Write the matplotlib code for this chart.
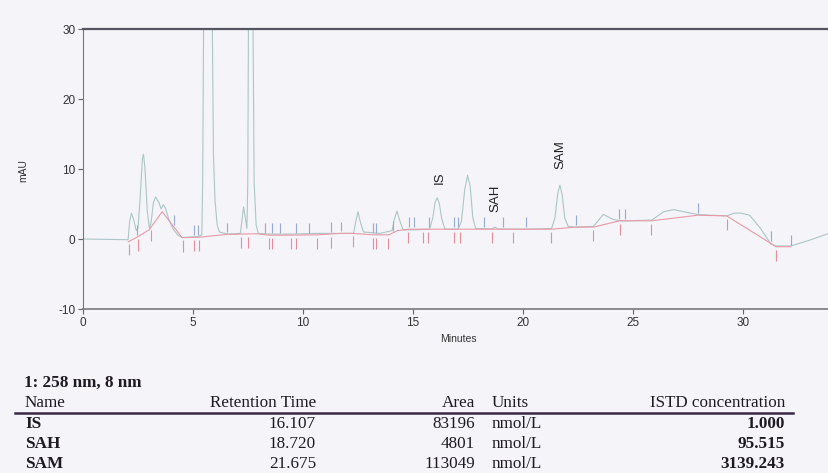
import numpy as np
import matplotlib
matplotlib.use("Agg")
import matplotlib.pyplot as plt

plt.rcParams["axes.unicode_minus"] = False

# Chromatogram trace (minutes, mAU)
trace_t = [0.0, 2.05, 2.12, 2.2, 2.3, 2.42, 2.5, 2.6, 2.7, 2.75, 2.82, 2.92, 3.02, 3.1, 3.2,
           3.3, 3.45, 3.55, 3.65, 3.75, 3.9, 4.1, 4.3, 4.5, 5.0, 5.25, 5.4, 5.44, 5.48, 5.65,
           5.88, 5.93, 6.0, 6.1, 6.2, 6.6, 7.15, 7.22, 7.3, 7.38, 7.45, 7.49, 7.52, 7.62, 7.73,
           7.78, 7.87, 7.97, 8.5, 9.5, 10.5, 11.5, 12.3, 12.4, 12.5, 12.6, 12.75, 13.5, 14.05,
           14.15, 14.27, 14.4, 14.55, 15.0, 15.75, 15.9, 16.0, 16.1, 16.2, 16.3, 16.45, 17.05,
           17.2, 17.35, 17.48, 17.6, 17.72, 17.85, 18.6, 18.72, 18.85, 20.0, 21.3, 21.45, 21.58,
           21.68, 21.78, 21.9, 22.05, 22.4, 23.2, 23.65, 24.1, 24.4, 24.65, 25.85, 26.4, 26.85,
           27.3, 27.94, 28.5, 29.26, 29.6, 29.9, 30.3, 30.8, 31.26, 31.5, 32.17, 33.0, 33.9]
trace_y = [0.0, -0.1, 2.5, 3.7, 2.8, 1.2, 1.5, 6.0, 11.5, 12.1, 10.0, 4.0, 1.5, 2.5, 5.2,
           6.0, 5.2, 4.3, 4.9, 4.4, 2.8, 1.4, 0.6, 0.2, 0.3, 0.35, 0.6, 8.0, 30.0, 150.0,
           30.0, 12.0, 5.5, 2.0, 1.0, 0.7, 0.8, 2.5, 4.6, 3.0, 1.5, 8.0, 30.0, 120.0, 30.0,
           8.0, 2.0, 0.8, 0.7, 0.7, 0.8, 0.8, 0.8, 2.5, 3.9, 2.5, 1.0, 0.8, 1.2,
           2.8, 4.0, 2.6, 1.3, 1.3, 1.4, 3.0, 5.2, 5.9, 5.0, 3.0, 1.4, 1.4,
           2.5, 7.0, 9.1, 7.5, 3.0, 1.5, 1.45, 1.7, 1.45, 1.4, 1.5, 3.0, 6.5,
           7.7, 6.3, 3.0, 1.8, 1.7, 1.8, 3.5, 2.8, 2.6, 2.6, 2.7, 3.9, 4.2,
           3.9, 3.5, 3.4, 3.3, 3.7, 3.7, 3.4, 1.5, -0.7, -1.0, -1.0, -0.2, 0.8]

# Integration baseline
base_t = [2.06, 2.45, 3.0, 3.6, 4.5, 5.27, 6.5, 7.17, 7.9, 8.45, 9.44, 10.64, 11.7, 12.26,
          13.2, 13.9, 14.3, 14.8, 16.9, 19.5, 21.3, 22.4, 23.2, 24.4, 25.85, 27.94, 29.26,
          31.3, 31.5, 32.17]
base_y = [-0.4, 0.25, 1.3, 3.9, 0.2, 0.25, 0.65, 0.7, 0.75, 0.55, 0.55, 0.6, 0.8, 0.8,
          0.6, 0.6, 1.2, 1.4, 1.4, 1.4, 1.4, 1.7, 1.7, 2.6, 2.6, 3.4, 3.3,
          -0.7, -1.1, -1.1]

# Peak start / end event marks
blue_ticks = [2.44, 4.14, 5.05, 5.23, 6.53, 8.27, 8.58, 8.97, 9.68, 10.27, 11.26, 11.73,
              13.2, 13.3, 14.1, 14.83, 15.06, 15.74, 16.86, 17.03, 18.24, 19.1, 20.12,
              22.4, 24.38, 24.64, 27.94, 31.26, 32.17]
red_ticks = [2.1, 2.5, 3.1, 4.55, 5.05, 5.27, 7.17, 7.5, 8.44, 8.6, 9.44, 9.68, 10.64,
             11.26, 12.26, 13.2, 13.3, 13.88, 14.79, 15.47, 15.7, 16.86, 17.14, 18.58,
             19.53, 21.26, 23.2, 24.4, 25.8, 29.26, 31.5]

peak_names = ["IS", "SAH", "SAM"]
label_t = [16.2, 18.76, 21.7]
label_y = [8.8, 5.8, 12.0]

# Results table
table_title = "1: 258 nm, 8 nm"
ret_time = ["16.107", "18.720", "21.675"]
area = ["83196", "4801", "113049"]
units = ["nmol/L", "nmol/L", "nmol/L"]
istd_conc = ["1.000", "95.515", "3139.243"]

W, H = 829, 473
paper = "#f4f4f9"

fig = plt.figure(figsize=(W / 100, H / 100), dpi=100, facecolor=paper)

def px(x, y):
    return x / W, 1 - y / H

ax = fig.add_axes([83 / W, (H - 309) / H, (W - 83) / W, 280 / H], facecolor=paper)

ax.plot(trace_t, trace_y, color="#adc6c6", lw=0.8, zorder=2)
ax.plot(base_t, base_y, color="#e89aa8", lw=0.8, zorder=3)

b_blue = np.interp(blue_ticks, base_t, base_y)
b_red = np.interp(red_ticks, base_t, base_y)
ax.vlines(blue_ticks, b_blue + 0.3, b_blue + 1.7, color="#98abd2", lw=0.8, zorder=3)
ax.vlines(red_ticks, b_red - 0.4, b_red - 2.0, color="#e58e9c", lw=0.8, zorder=3)

for name, t, y in zip(peak_names, label_t, label_y):
    ax.text(t, y, name, rotation=90, ha="center", va="center",
            fontsize=9.5, family="Liberation Sans", color="#222222")

ax.set_xlim(0, (W - 83) / 22)
ax.set_ylim(-10, 30)
ax.set_xticks([0, 5, 10, 15, 20, 25, 30])
ax.set_yticks([-10, 0, 10, 20, 30])
ax.tick_params(direction="out", length=3.5, width=0.8, colors="#666666",
               labelcolor="#333333", labelsize=8.5, pad=2)
for lab in ax.get_xticklabels() + ax.get_yticklabels():
    lab.set_family("Liberation Sans")

ax.spines["right"].set_visible(False)
ax.spines["left"].set_color("#777777")
ax.spines["bottom"].set_color("#7a7a7a")
ax.spines["bottom"].set_linewidth(1.2)
ax.spines["top"].set_color("#555560")
ax.spines["top"].set_linewidth(1.6)

fig.text(*px(23, 170.5), "mAU", rotation=90, ha="center", va="center",
         fontsize=7.5, family="Liberation Sans", color="#333333")
fig.text(*px(458, 339), "Minutes", ha="center", va="center",
         fontsize=7.5, family="Liberation Sans", color="#333333")

# table below the chart
serif = "Liberation Serif"
fs = 12.3
ink = "#1e1a22"
fig.text(*px(24, 387), table_title, fontsize=fs, family=serif, weight="bold",
         color=ink, va="baseline")
fig.text(*px(25, 407), "Name", fontsize=fs, family=serif, color=ink, va="baseline")
fig.text(*px(316, 407), "Retention Time", fontsize=fs, family=serif, color=ink,
         va="baseline", ha="right")
fig.text(*px(475, 407), "Area", fontsize=fs, family=serif, color=ink,
         va="baseline", ha="right")
fig.text(*px(492, 407), "Units", fontsize=fs, family=serif, color=ink, va="baseline")
fig.text(*px(785, 407), "ISTD concentration", fontsize=fs, family=serif, color=ink,
         va="baseline", ha="right")
fig.add_artist(plt.Line2D([15 / W, 793 / W], [1 - 412.5 / H, 1 - 412.5 / H],
                          color="#3a2a48", lw=1.8))

row_y = [428, 448, 468]
for i, y in enumerate(row_y):
    fig.text(*px(25, y), peak_names[i], fontsize=fs, family=serif, weight="bold",
             color=ink, va="baseline")
    fig.text(*px(316, y), ret_time[i], fontsize=fs, family=serif, color=ink,
             va="baseline", ha="right")
    fig.text(*px(475, y), area[i], fontsize=fs, family=serif, color=ink,
             va="baseline", ha="right")
    fig.text(*px(492, y), units[i], fontsize=fs, family=serif, color=ink, va="baseline")
    fig.text(*px(785, y), istd_conc[i], fontsize=fs, family=serif, weight="bold",
             color=ink, va="baseline", ha="right")

fig.savefig("out.png", dpi=100, facecolor=paper)
plt.close(fig)
